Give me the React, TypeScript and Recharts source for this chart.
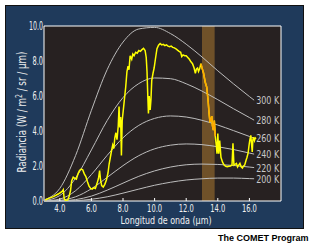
import { LineChart, Line, XAxis, YAxis, ReferenceArea } from "recharts";

// Planck curves, read at whole micrometres (+ end point)
const wavelengths = [3, 4, 5, 6, 7, 8, 9, 10, 11, 12, 13, 14, 15, 16, 16.3];
const t300 = [0.06, 0.72, 2.6, 5.18, 7.51, 9.08, 9.83, 9.92, 9.57, 8.96, 8.23, 7.44, 6.69, 5.97, 5.76];
const t280 = [0.02, 0.31, 1.31, 2.92, 4.6, 5.91, 6.71, 7.03, 6.99, 6.7, 6.28, 5.79, 5.27, 4.77, 4.62];
const t260 = [0.0, 0.11, 0.59, 1.51, 2.61, 3.61, 4.32, 4.72, 4.86, 4.8, 4.61, 4.34, 4.02, 3.69, 3.59];
const t240 = [0.0, 0.04, 0.24, 0.7, 1.35, 2.02, 2.59, 2.98, 3.19, 3.26, 3.22, 3.1, 2.94, 2.74, 2.68];
const t220 = [0.0, 0.01, 0.08, 0.28, 0.62, 1.02, 1.41, 1.72, 1.94, 2.07, 2.11, 2.09, 2.03, 1.94, 1.91];
const t200 = [0.0, 0.0, 0.02, 0.1, 0.24, 0.45, 0.68, 0.9, 1.07, 1.2, 1.27, 1.31, 1.31, 1.28, 1.27];

// measured spectrum
const specX = [
  3.08, 3.3, 3.6, 3.9, 4.15, 4.22, 4.28, 4.35, 4.5, 4.6, 4.68, 4.75, 4.85, 4.95, 5.05, 5.15, 5.25, 5.35,
  5.45, 5.55, 5.65, 5.75, 5.85, 5.95, 6.05, 6.15, 6.25, 6.35, 6.45, 6.52, 6.58, 6.65, 6.75, 6.85, 6.95,
  7.05, 7.12, 7.2, 7.28, 7.35, 7.42, 7.48, 7.55, 7.62, 7.7, 7.75, 7.8, 7.85, 7.9, 7.95, 8.02, 8.1, 8.17,
  8.25, 8.32, 8.38, 8.45, 8.55, 8.62, 8.7, 8.8, 8.9, 9.0, 9.1, 9.2, 9.3, 9.4, 9.47, 9.52, 9.57, 9.61,
  9.66, 9.72, 9.77, 9.82, 9.9, 9.97, 10.05, 10.15, 10.25, 10.35, 10.45, 10.55, 10.65, 10.75, 10.85,
  10.95, 11.05, 11.15, 11.25, 11.35, 11.45, 11.55, 11.65, 11.72, 11.8, 11.9, 12.0, 12.1, 12.2, 12.3,
  12.4, 12.5, 12.58, 12.65, 12.72, 12.78, 12.85, 12.93, 13.0, 13.1, 13.2, 13.3, 13.38, 13.45, 13.5,
  13.56, 13.62, 13.66, 13.72, 13.78, 13.84, 13.9, 13.95, 14.0, 14.06, 14.12, 14.2, 14.3, 14.4, 14.5,
  14.6, 14.7, 14.8, 14.9, 14.96, 15.02, 15.1, 15.18, 15.25, 15.32, 15.4, 15.48, 15.56, 15.63, 15.7,
  15.78, 15.85, 15.92, 15.98, 16.03, 16.09, 16.14, 16.18, 16.22, 16.26, 16.32, 16.37, 16.42,
];
const specY = [
  0.06, 0.15, 0.25, 0.4, 0.55, 0.65, 0.12, 0.05, 0.06, 0.3, 0.6, 1.15, 1.36, 1.3, 1.25, 1.55, 1.75, 1.82,
  1.78, 1.55, 1.4, 1.1, 0.85, 0.72, 0.68, 0.76, 0.72, 0.98, 1.3, 1.74, 1.2, 0.88, 0.8, 0.95, 1.2,
  1.6, 2.1, 2.5, 2.9, 3.2, 3.0, 3.6, 3.9, 3.5, 4.3, 5.4, 4.2, 4.8, 2.6, 4.6, 5.2, 5.9, 6.5,
  7.4, 7.7, 7.5, 8.3, 8.1, 8.4, 8.3, 8.5, 8.45, 8.6, 8.55, 8.65, 8.72, 8.6, 8.2, 7.4, 6.0, 5.0,
  6.0, 5.2, 5.8, 6.9, 7.3, 7.6, 8.1, 8.7, 8.9, 9.0, 8.92, 8.95, 8.88, 8.92, 8.85,
  8.82, 8.85, 8.78, 8.75, 8.7, 8.62, 8.55, 8.5, 8.25, 8.35, 8.3, 8.3, 8.2, 8.1, 7.95,
  7.85, 7.6, 7.3, 7.55, 7.6, 7.4, 7.55, 7.85, 7.6, 7.3, 6.8, 6.5, 5.8, 5.0, 4.55,
  4.6, 4.85, 4.3, 4.05, 4.6, 3.7, 3.2, 2.7, 3.85, 2.7, 3.45, 2.5, 2.22, 2.05, 1.98,
  1.96, 1.98, 2.0, 2.05, 3.3, 2.05, 2.1, 2.15, 1.95, 2.05, 2.15, 1.95, 1.88, 2.0, 2.05,
  2.3, 2.5, 2.75, 3.2, 3.5, 3.75, 3.2, 2.8, 3.5, 3.65, 3.45, 3.6, 3.55,
];

const xTicks = [4, 6, 8, 10, 12, 14, 16];
const yTicks = [0, 2, 4, 6, 8, 10];
const bandStart = 13.0;
const bandEnd = 13.8;

const FONT = "'Liberation Sans Narrow', 'DejaVu Sans Condensed', Arial, sans-serif";

const curves = [
  { name: "300 K", vals: t300 },
  { name: "280 K", vals: t280 },
  { name: "260 K", vals: t260 },
  { name: "240 K", vals: t240 },
  { name: "220 K", vals: t220 },
  { name: "200 K", vals: t200 },
];

const spectrum = specX.map((w, i) => ({ w, r: specY[i] }));
const bandPart = spectrum.filter((p) => p.w >= 12.93 && p.w <= 13.84);

// narrow tick text, squeezed to the width of the original labels
const XTick = ({ x, y, payload }: any) => {
  const s = payload.value.toFixed(1);
  return (
    <g>
      <line x1={x} x2={x} y1={y - 3} y2={y} stroke="#fff" />
      <text
        x={x}
        y={y + 11}
        textAnchor="middle"
        fill="#f0f0f0"
        fontSize={11}
        fontFamily={FONT}
        textLength={s.length > 3 ? 15 : 11}
        lengthAdjust="spacingAndGlyphs"
      >
        {s}
      </text>
    </g>
  );
};

const YTick = ({ x, y, payload }: any) => {
  const s = payload.value.toFixed(1);
  return (
    <text
      x={x - 1}
      y={y}
      dy={4}
      textAnchor="end"
      fill="#f0f0f0"
      fontSize={11.5}
      fontFamily={FONT}
      textLength={s.length > 3 ? 14 : 10.5}
      lengthAdjust="spacingAndGlyphs"
    >
      {s}
    </text>
  );
};

const tempLabel = (text: string) => (props: any) => {
  if (props.index !== wavelengths.length - 1) return <g key={props.index} />;
  return (
    <text
      key={props.index}
      x={props.x + 2}
      y={props.y}
      dy={4}
      fill="#c8c8c8"
      fontSize={10.5}
      fontFamily={FONT}
      textLength={23}
      lengthAdjust="spacingAndGlyphs"
    >
      {text}
    </text>
  );
};

const YTitle = () => (
  <text
    transform="translate(26,112) rotate(-90)"
    textAnchor="middle"
    fill="#f0f0f0"
    fontSize={11.5}
    fontFamily={FONT}
    textLength={121}
    lengthAdjust="spacingAndGlyphs"
  >
    Radiancia (W / m<tspan dy={-4} fontSize={8}>2</tspan>
    <tspan dy={4}> / sr / µm)</tspan>
  </text>
);

const XTitle = () => (
  <text
    x={166}
    y={224}
    textAnchor="middle"
    fill="#f0f0f0"
    fontSize={11}
    fontFamily={FONT}
    textLength={91}
    lengthAdjust="spacingAndGlyphs"
  >
    Longitud de onda (µm)
  </text>
);

export default function App() {
  return (
    <div style={{ position: "absolute", left: 0, top: 0, width: 310, height: 245, background: "#fff" }}>
      <div
        style={{
          position: "absolute",
          left: 5,
          top: 5,
          width: 299,
          height: 224,
          boxSizing: "border-box",
          background: "#1f3a5b",
          border: "1px solid #111",
        }}
      />
      <div style={{ position: "absolute", left: 0, top: 0 }}>
        <LineChart width={310} height={245} margin={{ top: 26, right: 29, bottom: 0, left: 0 }}>
          <XAxis
            dataKey="w"
            type="number"
            domain={[3, 18]}
            ticks={xTicks}
            allowDataOverflow
            height={44}
            tickSize={0}
            tickMargin={0}
            axisLine={false}
            tick={<XTick />}
            label={<XTitle />}
          />
          <YAxis
            type="number"
            domain={[0, 10]}
            ticks={yTicks}
            width={44}
            tickSize={0}
            tickMargin={0}
            axisLine={false}
            tick={<YTick />}
            label={<YTitle />}
          />
          <ReferenceArea x1={3} x2={18} y1={0} y2={10} fill="#272121" fillOpacity={1} stroke="none" />
          <ReferenceArea x1={bandStart} x2={bandEnd} y1={0} y2={10} fill="#6f5129" fillOpacity={1} stroke="none" />
          {curves.map((c) => (
            <Line
              key={c.name}
              data={wavelengths.map((w, i) => ({ w, r: c.vals[i] }))}
              dataKey="r"
              type="monotone"
              stroke="#bdbdbd"
              strokeWidth={1}
              dot={false}
              isAnimationActive={false}
              label={tempLabel(c.name)}
            />
          ))}
          <Line data={spectrum} dataKey="r" type="linear" stroke="#ffff00" strokeWidth={1.5} dot={false} isAnimationActive={false} />
          <Line data={bandPart} dataKey="r" type="linear" stroke="#ffa800" strokeWidth={1.5} dot={false} isAnimationActive={false} />
          <ReferenceArea x1={3} x2={18} y1={0} y2={10} fill="none" stroke="#ffffff" strokeWidth={1} />
        </LineChart>
      </div>
      <div
        style={{
          position: "absolute",
          left: 218,
          top: 233,
          fontFamily: "'Liberation Sans', Arial, sans-serif",
          fontWeight: "bold",
          fontSize: 9,
          color: "#000",
          whiteSpace: "nowrap",
        }}
      >
        The COMET Program
      </div>
    </div>
  );
}
